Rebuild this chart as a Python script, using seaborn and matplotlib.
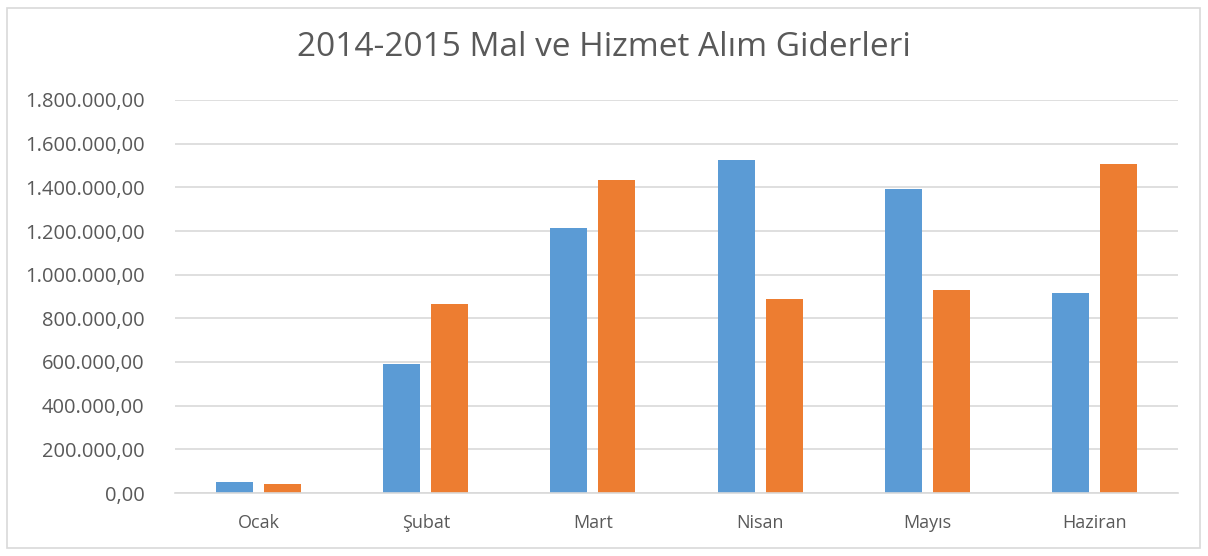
import pandas as pd
import matplotlib
matplotlib.use('Agg')
import matplotlib.pyplot as plt
from matplotlib.ticker import FuncFormatter, MultipleLocator
from matplotlib.patches import Rectangle
import seaborn as sns

# data
aylar = ['Ocak', 'Şubat', 'Mart', 'Nisan', 'Mayıs', 'Haziran']
yil_2014 = [50000, 590000, 1213000, 1525000, 1393000, 918000]
yil_2015 = [42700, 865000, 1435000, 888000, 932000, 1508000]
seriler = ['2014', '2015']

df = pd.DataFrame({
    'ay': aylar * 2,
    'tutar': yil_2014 + yil_2015,
    'yil': [seriler[0]] * len(aylar) + [seriler[1]] * len(aylar),
})

sns.set_style('white')
plt.rcParams['font.family'] = ['Open Sans', 'DejaVu Sans']

fig = plt.figure(figsize=(12.08, 5.56), dpi=100)
ax = fig.add_axes([175 / 1208, 1 - 493 / 556, (1178 - 175) / 1208, (493 - 100) / 556])

sns.barplot(data=df, x='ay', y='tutar', hue='yil',
            palette=['#5B9BD5', '#ED7D31'], width=0.575, gap=0.23,
            saturation=1, linewidth=0, legend=False, ax=ax)

ax.set_ylim(0, 1800000)
ax.yaxis.set_major_locator(MultipleLocator(200000))

def tr_format(v, pos):
    s = f'{v:,.2f}'
    return s.replace(',', 'X').replace('.', ',').replace('X', '.')

ax.yaxis.set_major_formatter(FuncFormatter(tr_format))
ax.grid(axis='y', color='#D9D9D9', linewidth=1.2)
ax.set_axisbelow(True)
for side in ['top', 'right', 'left']:
    ax.spines[side].set_visible(False)
ax.spines['bottom'].set_color('#D9D9D9')
ax.spines['bottom'].set_linewidth(1.2)
ax.tick_params(axis='both', length=0, labelcolor='#595959')
ax.tick_params(axis='y', pad=22, labelsize=14.5)
ax.tick_params(axis='x', pad=15, labelsize=13)
ax.set_xlabel('')
ax.set_ylabel('')

fig.text(0.5, 1 - 48 / 556, '2014-2015 Mal ve Hizmet Alım Giderleri',
         ha='center', va='center', fontsize=24, color='#595959')

fig.patches.append(Rectangle((7 / 1208, 8 / 556), 1193 / 1208, 540 / 556,
                             transform=fig.transFigure, fill=False,
                             edgecolor='#D9D9D9', linewidth=1.2))

fig.savefig('out.png', dpi=100)
